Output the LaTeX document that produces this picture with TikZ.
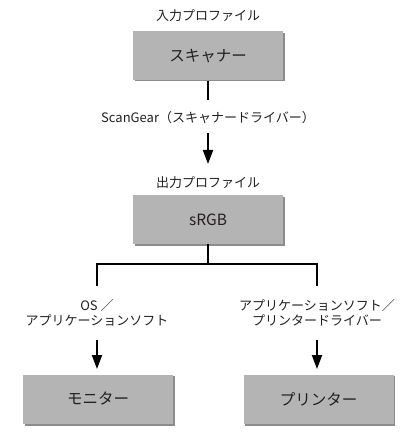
\documentclass[tikz,border=0pt]{standalone}
\usepackage{fontspec}
\setmainfont{Noto Sans CJK JP}
\usetikzlibrary{arrows.meta}
\definecolor{boxgray}{HTML}{B4B4B4}
\definecolor{shadowgray}{HTML}{8C8C8C}
\definecolor{ink}{HTML}{231F20}
\tikzset{
	devbox/.style={fill=boxgray, minimum width=150pt, minimum height=49pt, text=ink, font=\fontsize{15.5}{18}\selectfont},
	lbl/.style={text=ink, align=center, font=\fontsize{13}{14.5}\selectfont},
	wire/.style={line width=2pt, black},
	arr/.style={line width=2pt, black, -{Triangle[width=10pt,length=14pt]}}
}
\begin{document}
\begin{tikzpicture}[x=1pt, y=-1pt]
			\useasboundingbox (0,0) rectangle (416,446);

			\fill [shadowgray] (134.5,33) rectangle (284.5,81.5);
			\fill [shadowgray] (134.5,196.5) rectangle (284.5,245.5);
			\fill [shadowgray] (24.5,375.5) rectangle (174.5,425.5);
			\fill [shadowgray] (245,375.5) rectangle (395,425.5);

			\node [lbl](pin) at (208,16) {入力プロファイル};
			\node [devbox](scan) at (208,56) {スキャナー};
			\node [lbl](sg) at (208,118) {ScanGear（スキャナードライバー）};
			\node [lbl](pout) at (208,183) {出力プロファイル};
			\node [devbox](srgb) at (208,219.5) {sRGB};
			\node [lbl](osl) at (97,313) {OS ／\\アプリケーションソフト};
			\node [lbl](drv) at (317,313) {アプリケーションソフト／\\プリンタードライバー};
			\node [devbox](mon) at (98,399) {モニター};
			\node [devbox](prn) at (318.5,399) {プリンター};

			\coordinate (s0) at (208,100);
			\coordinate (a0) at (208,133);
			\coordinate (a1) at (208,164);
			\coordinate (j0) at (208,264);
			\coordinate (jl) at (97,264);
			\coordinate (jr) at (317,264);
			\coordinate (el) at (97,286);
			\coordinate (er) at (317,286);
			\coordinate (bl0) at (97,340);
			\coordinate (bl1) at (97,369);
			\coordinate (br0) at (317,340);
			\coordinate (br1) at (317,369);

			\draw [wire](scan) -- (s0);
			\draw [arr](a0) -- (a1);

			\draw [wire](srgb) -- (j0);
			\draw [wire](el) -- (jl) -- (jr) -- (er);

			\draw [arr](bl0) -- (bl1);
			\draw [arr](br0) -- (br1);

		\end{tikzpicture}
\end{document}
